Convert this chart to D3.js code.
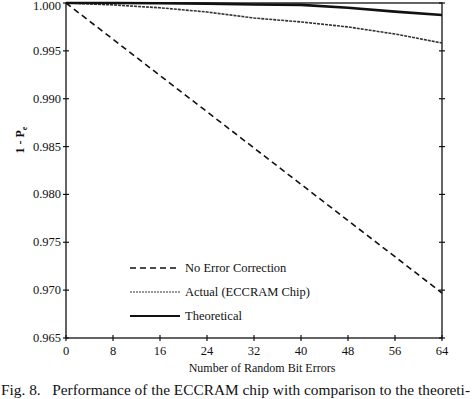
<!DOCTYPE html>
<html>
<head>
<meta charset="utf-8">
<script src="https://cdn.jsdelivr.net/npm/d3@7"></script>
<style>
  body { margin: 0; background: #fff; }
  svg { display: block; font-family: "Liberation Serif", "DejaVu Serif", serif; }
</style>
</head>
<body>
<svg width="474" height="399"></svg>
<script>
// Values
const bitErrors = [0, 8, 16, 24, 32, 40, 48, 56, 64];
const noCorrection = [1.0, 0.99621, 0.99242, 0.98864, 0.98485, 0.98106, 0.97727, 0.97349, 0.9697];
const actual = [1.0, 0.9998, 0.9995, 0.99906, 0.99843, 0.99802, 0.9975, 0.99676, 0.99582];
const theoretical = [1.0, 1.0, 0.99998, 0.99993, 0.99985, 0.9998, 0.9995, 0.9991, 0.99875];
const xTicks = [0, 8, 16, 24, 32, 40, 48, 56, 64];
const yTicks = [0.965, 0.970, 0.975, 0.980, 0.985, 0.990, 0.995, 1.000];

const svg = d3.select("svg");
const plotL = 66, plotR = 442, plotT = 3, plotB = 338;

const x = d3.scaleLinear().domain([0, 64]).range([plotL, plotR]);
const y = d3.scaleLinear().domain([0.965, 1.0]).range([plotB, plotT]);

// frame
svg.append("rect")
  .attr("x", plotL).attr("y", plotT)
  .attr("width", plotR - plotL).attr("height", plotB - plotT)
  .attr("fill", "none").attr("stroke", "#111").attr("stroke-width", 1.3);

// left / right axis ticks + labels
const yAxis = svg.append("g");
yAxis.selectAll("line.tl").data(yTicks).enter().append("line")
  .attr("x1", plotL - 3).attr("x2", plotL + 3)
  .attr("y1", d => y(d)).attr("y2", d => y(d))
  .attr("stroke", "#111").attr("stroke-width", 1.2);
yAxis.selectAll("line.tr").data(yTicks).enter().append("line")
  .attr("x1", plotR - 3).attr("x2", plotR + 3)
  .attr("y1", d => y(d)).attr("y2", d => y(d))
  .attr("stroke", "#111").attr("stroke-width", 1.2);
yAxis.selectAll("text").data(yTicks).enter().append("text")
  .attr("x", plotL - 5).attr("y", d => Math.max(y(d) + 4, 10))
  .attr("text-anchor", "end")
  .attr("font-size", 12.5)
  .attr("fill", "#111")
  .text(d => d3.format(".3f")(d));

// bottom axis
const xAxis = svg.append("g");
xAxis.selectAll("line").data(xTicks).enter().append("line")
  .attr("x1", d => x(d)).attr("x2", d => x(d))
  .attr("y1", plotB - 3).attr("y2", plotB + 3)
  .attr("stroke", "#111").attr("stroke-width", 1.2);
xAxis.selectAll("text").data(xTicks).enter().append("text")
  .attr("x", d => x(d)).attr("y", plotB + 17)
  .attr("text-anchor", "middle")
  .attr("font-size", 12.5)
  .attr("fill", "#111")
  .text(d => d);

// axis titles
svg.append("text")
  .attr("x", 262).attr("y", 372)
  .attr("text-anchor", "middle")
  .attr("font-size", 12)
  .attr("fill", "#111")
  .text("Number of Random Bit Errors");

const yl = svg.append("text")
  .attr("transform", "translate(24,140) rotate(-90)")
  .attr("text-anchor", "middle")
  .attr("font-size", 12)
  .attr("font-weight", "bold")
  .attr("fill", "#111");
yl.append("tspan").text("1 - P");
yl.append("tspan").attr("font-size", 8).attr("dy", 3).text("e");

// series
const series = [
  { name: "No Error Correction", values: noCorrection, dash: "6,4", width: 1.6, color: "#111" },
  { name: "Actual (ECCRAM Chip)", values: actual, dash: "3,1", width: 1.6, color: "#333" },
  { name: "Theoretical", values: theoretical, dash: null, width: 2.6, color: "#111" }
];

const line = d3.line()
  .x((d, i) => x(bitErrors[i]))
  .y(d => y(d));

svg.append("g").selectAll("path").data(series).enter().append("path")
  .attr("d", d => line(d.values))
  .attr("fill", "none")
  .attr("stroke", d => d.color)
  .attr("stroke-width", d => d.width)
  .attr("stroke-dasharray", d => d.dash);

// legend
const legend = svg.append("g");
const legendY = [268, 292, 316];
series.forEach((s, i) => {
  legend.append("line")
    .attr("x1", 130).attr("x2", 180)
    .attr("y1", legendY[i]).attr("y2", legendY[i])
    .attr("stroke", i === 1 ? "#777" : s.color)
    .attr("stroke-width", s.width > 2 ? 2 : 1.6)
    .attr("stroke-dasharray", i === 1 ? "2,1" : s.dash);
  legend.append("text")
    .attr("x", 185).attr("y", legendY[i] + 4)
    .attr("font-size", 12.5)
    .attr("fill", "#111")
    .text(s.name);
});

// caption
svg.append("text")
  .attr("x", 1).attr("y", 395)
  .attr("font-size", 15.5)
  .attr("fill", "#111")
  .attr("xml:space", "preserve")
  .attr("textLength", 469)
  .attr("lengthAdjust", "spacingAndGlyphs")
  .text("Fig. 8.   Performance of the ECCRAM chip with comparison to the theoreti-");
</script>
</body>
</html>
